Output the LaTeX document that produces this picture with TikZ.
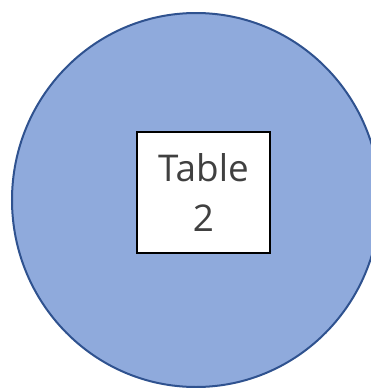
\documentclass[tikz,border=0pt]{standalone}
\usepackage{fontspec}
\setmainfont{Open Sans}
\usetikzlibrary{shapes.geometric}

\definecolor{discfill}{HTML}{8FAADC}
\definecolor{discline}{HTML}{2F528F}
\definecolor{textgray}{HTML}{404040}

\tikzset{
  disc/.style={fill=discfill, draw=discline, line width=2bp},
  tablebox/.style={draw=black, fill=white, line width=2.2bp, inner sep=0pt,
    minimum width=133bp, minimum height=121bp, align=center,
    text=textgray, font=\fontsize{37}{51}\selectfont}
}

\begin{document}
\begin{tikzpicture}[x=1bp, y=-1bp]
  \useasboundingbox (0,0) rectangle (371,388);
  % --- grosse Scheibe ---
  \draw[disc] (196,200) ellipse [x radius=184, y radius=187];

  % --- Tabelle ---
  \node[tablebox] (tbl) at (203.5,192.5) {Table\\2};
\end{tikzpicture}
\end{document}
